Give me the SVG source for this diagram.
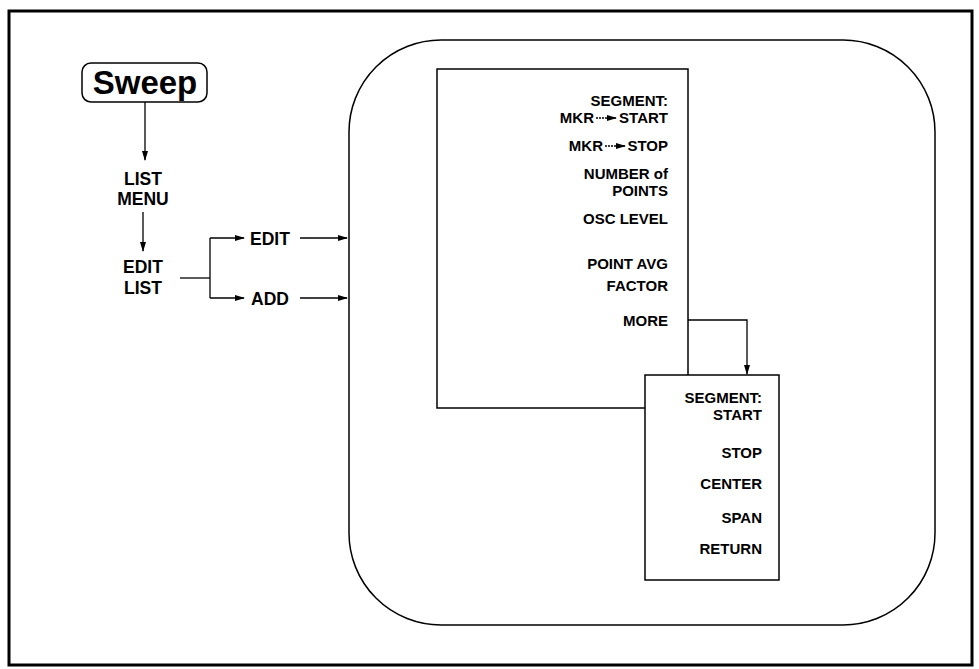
<svg xmlns="http://www.w3.org/2000/svg" width="979" height="669" viewBox="0 0 979 669">
<defs>
<marker id="ah" markerWidth="10" markerHeight="6" refX="9" refY="3" orient="auto" markerUnits="userSpaceOnUse">
<path d="M0,0 L10,3 L0,6 Z" fill="#000"/>
</marker>
<style>
text{font-family:"Liberation Sans",Arial,sans-serif;font-weight:bold;font-size:15px;fill:#000}
.c{text-anchor:middle}
.r{text-anchor:end}
.big{font-size:17.5px}
.box{fill:#fff;stroke:#000;stroke-width:1.5}
.ln{fill:none;stroke:#000;stroke-width:1.3}
</style>
</defs>
<rect x="9" y="11" width="963" height="654" fill="#fff" stroke="#000" stroke-width="3"/>

<g id="sweep">
<rect x="82" y="63" width="125" height="39" rx="9" class="box"/>
<text x="145" y="94" class="c" style="font-size:33px">Sweep</text>
</g>
<g id="listmenu">
<text x="143" y="185" class="c big">LIST</text>
<text x="143" y="205" class="c big">MENU</text>
</g>
<g id="editlist">
<text x="143" y="273" class="c big">EDIT</text>
<text x="143" y="294" class="c big">LIST</text>
</g>
<g id="edit"><text x="250" y="245" class="big">EDIT</text></g>
<g id="add"><text x="251" y="305" class="big">ADD</text></g>

<g id="panel">
<rect x="349" y="40" width="586" height="585" rx="92" class="box"/>
</g>

<g id="menu1">
<rect x="437" y="69" width="251" height="339" class="box"/>
<text x="668" y="106" class="r">SEGMENT:</text>
<text x="668" y="123" class="r">START</text>
<text x="594" y="123" class="r">MKR</text>
<path d="M596,118 H616" class="ln" stroke-dasharray="2,1" marker-end="url(#ah)"/>
<text x="668" y="151" class="r">STOP</text>
<text x="603" y="151" class="r">MKR</text>
<path d="M605,146 H625" class="ln" stroke-dasharray="2,1" marker-end="url(#ah)"/>
<text x="668" y="179" class="r">NUMBER of</text>
<text x="668" y="196" class="r">POINTS</text>
<text x="668" y="224" class="r">OSC LEVEL</text>
<text x="668" y="269" class="r">POINT AVG</text>
<text x="668" y="291" class="r">FACTOR</text>
<text x="668" y="326" class="r">MORE</text>
</g>

<g id="menu2">
<rect x="645" y="375" width="134" height="205" class="box"/>
<text x="762" y="403" class="r">SEGMENT:</text>
<text x="762" y="420" class="r">START</text>
<text x="762" y="458" class="r">STOP</text>
<text x="762" y="489" class="r">CENTER</text>
<text x="762" y="523" class="r">SPAN</text>
<text x="762" y="554" class="r">RETURN</text>
</g>

<g id="connectors">
<path d="M145,102 V160" class="ln" marker-end="url(#ah)"/>
<path d="M143,212 V251" class="ln" marker-end="url(#ah)"/>
<path d="M180,278 H210" class="ln"/>
<path d="M210,238 V298" class="ln"/>
<path d="M210,238 H244" class="ln" marker-end="url(#ah)"/>
<path d="M210,298 H244" class="ln" marker-end="url(#ah)"/>
<path d="M300,238 H347" class="ln" marker-end="url(#ah)"/>
<path d="M300,298 H347" class="ln" marker-end="url(#ah)"/>
<path d="M688,320 H747 V374" class="ln" marker-end="url(#ah)"/>
</g>
</svg>
